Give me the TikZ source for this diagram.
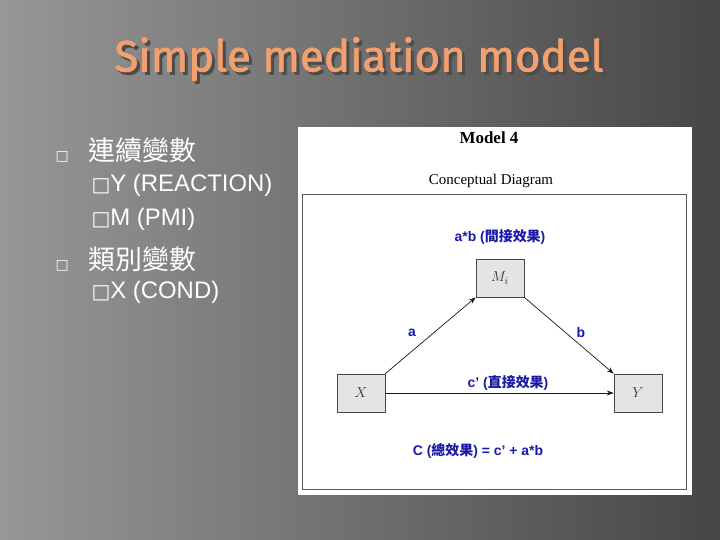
\documentclass[tikz,border=0pt]{standalone}
\usepackage{fontspec}
\setmainfont{Liberation Serif}
\setsansfont{Liberation Sans}
\newfontfamily\titlefont[FakeBold=1.6]{Fira Sans}
\newfontfamily\cjkfont{Noto Sans CJK TC}
\newfontfamily\symfont{DejaVu Sans}
\usetikzlibrary{positioning,arrows.meta}
\definecolor{bgleft}{HTML}{979797}
\definecolor{bgright}{HTML}{464646}
\definecolor{titleorange}{HTML}{F2A070}
\definecolor{labelblue}{HTML}{1A1AA6}
\definecolor{boxgray}{HTML}{E4E4E4}
\tikzset{
  bullet/.style={anchor=west,text=white,font=\fontsize{24}{27}\selectfont\sffamily},
  varbox/.style={draw=gray!55!black,line width=0.8pt,fill=boxgray,minimum width=48,minimum height=38,
    font=\fontsize{15}{17}\selectfont\itshape,text=gray!40!black},
  effect/.style={text=labelblue,font=\fontsize{14}{16}\selectfont\sffamily\bfseries},
  path/.style={-{Stealth[length=7bp,width=5bp]},gray!20!black,line width=0.7pt},
}
\begin{document}
\begin{tikzpicture}[x=1bp,y=-1bp]
\useasboundingbox (0,0) rectangle (720,540);
\shade[left color=bgleft,right color=bgright] (0,0) rectangle (720,540);
\node[text=black!70,font=\titlefont\fontsize{44}{50}\selectfont] at (362,62) {Simple mediation model};
\node (title) [text=titleorange,font=\titlefont\fontsize{44}{50}\selectfont] at (359,59) {Simple mediation model};
\node (cont) [bullet] at (52,150) {{\symfont\fontsize{14}{16}\selectfont □}\hspace{20bp}{\cjkfont\fontsize{27}{30}\selectfont 連續變數}};
\node (yvar) [bullet] at (88,185) {{\symfont\fontsize{20}{22}\selectfont □}Y (REACTION)};
\node (mvar) [bullet] at (88,219) {{\symfont\fontsize{20}{22}\selectfont □}M (PMI)};
\node (cat) [bullet] at (52,259) {{\symfont\fontsize{14}{16}\selectfont □}\hspace{20bp}{\cjkfont\fontsize{27}{30}\selectfont 類別變數}};
\node (xvar) [bullet] at (88,292) {{\symfont\fontsize{20}{22}\selectfont □}X (COND)};
\fill[white] (298,127) rectangle (692,495);
\draw[gray!70!black,line width=0.6pt] (302,194) rectangle (686,489);
\node (model) [font=\fontsize{17}{19}\selectfont\bfseries] at (489,138) {Model 4};
\node (concept) [font=\fontsize{15}{17}\selectfont] at (491,181) {Conceptual Diagram};
\node (boxM) [varbox] at (500,278) {$M_i$};
\node (boxX) [varbox] at (361,393) {$X$};
\node (boxY) [varbox] at (638,393) {$Y$};
\draw[path] (boxX.north east) -- (boxM.south west);
\draw[path] (boxM.south east) -- (boxY.north west);
\draw[path] (boxX.east) -- (boxY.west);
\node (ab) [effect] at (500,237) {a*b ({\cjkfont 間接效果})};
\node (a) [effect] at (412,333) {a};
\node (b) [effect] at (581,333) {b};
\node (cp) [effect] at (508,383) {c' ({\cjkfont 直接效果})};
\node (total) [effect] at (478,451) {C ({\cjkfont 總效果}) = c' + a*b};
\end{tikzpicture}
\end{document}
